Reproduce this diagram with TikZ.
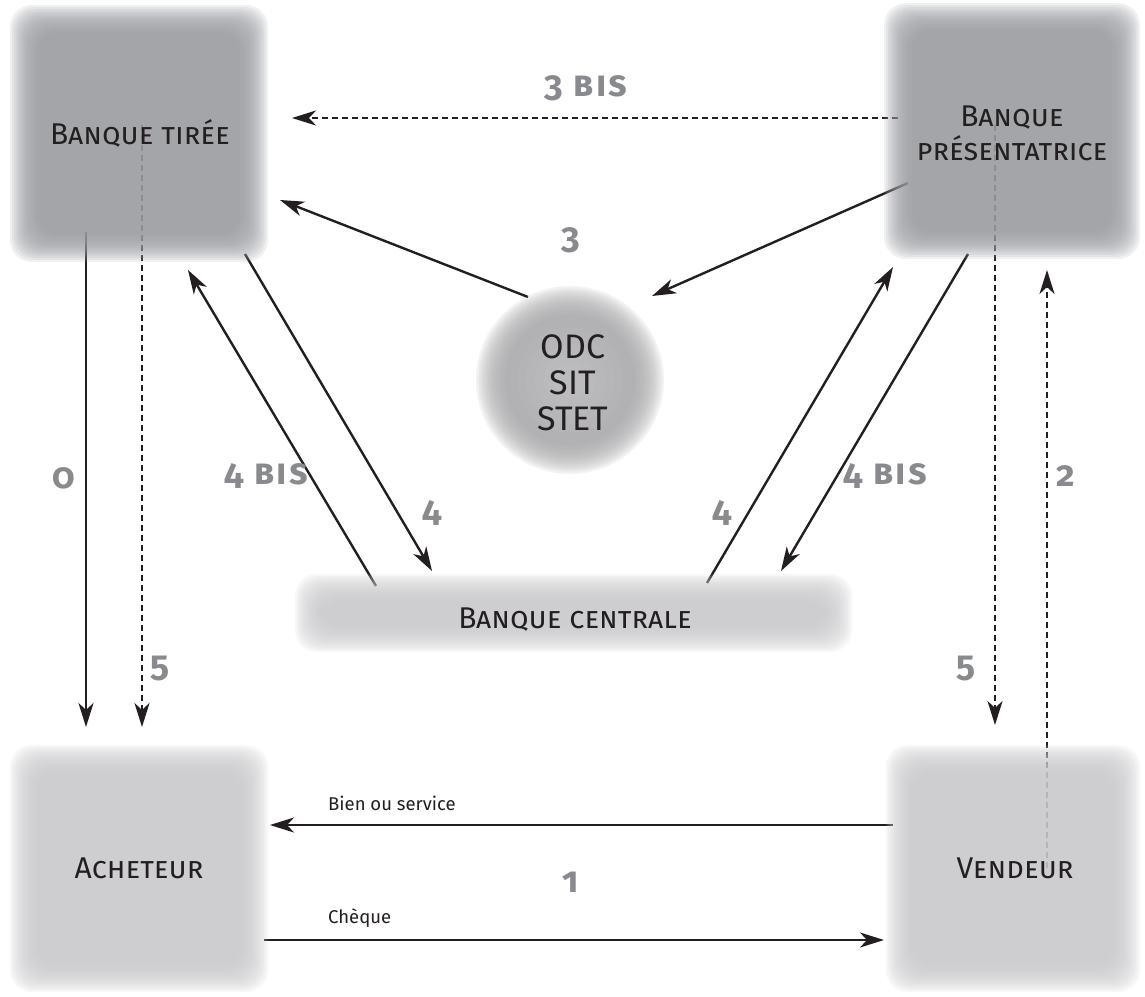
\documentclass[tikz,border=0pt]{standalone}
\usepackage{fontspec}
\setmainfont{Fira Sans}
\newfontfamily\labfont{Fira Sans}[Numbers=OldStyle,LetterSpace=6]
\usetikzlibrary{arrows.meta,calc}
\definecolor{darkbox}{HTML}{9D9EA2}
\definecolor{lightbox}{HTML}{CBCCCE}
\definecolor{circgray}{HTML}{A9AAAD}
\definecolor{labgray}{HTML}{898A8D}
\definecolor{ink}{HTML}{231F20}
\pgfdeclarelayer{bg}
\pgfdeclarelayer{mid}
\pgfsetlayers{bg,mid,main}
\newcommand\fuzzrect[5]{%
  \foreach \i in {0,...,13}{%
    \fill[#5,opacity=0.145,rounded corners=22pt] ({#1+2.1*\i},{#2+2.1*\i}) rectangle ({#3-2.1*\i},{#4-2.1*\i});}}
\newcommand\fuzzdisc[4]{%
  \foreach \i in {0,...,13}{%
    \fill[#4,opacity=0.145] (#1,#2) circle ({#3-2.4*\i});}}
\tikzset{
  boxlabel/.style={font=\fontsize{30}{34}\selectfont\scshape, text=ink, inner sep=0pt},
  circlabel/.style={font=\fontsize{34}{36}\selectfont, text=ink, inner sep=0pt, align=center},
  lab/.style={font=\labfont\bfseries\scshape\fontsize{36}{38}\selectfont, text=labgray, inner sep=0pt},
  small/.style={font=\fontsize{18.5}{20}\selectfont, text=ink, inner sep=0pt},
  conn/.style={draw=ink, line width=2.4pt, -{Stealth[length=24pt,width=15pt,inset=7pt]}},
  dconn/.style={conn, line width=2.6pt, dash pattern=on 6pt off 4pt}
}
\begin{document}
\begin{tikzpicture}[x=1pt,y=-1pt]
\useasboundingbox (0,0) rectangle (1145,996);
\begin{pgfonlayer}{bg}
  \fill[white] (0,0) rectangle (1145,996);
\end{pgfonlayer}

% nodes (text)
\node[boxlabel] (bt) at (140,133) {Banque tirée};
\node[boxlabel, align=center] (bp) at (1012,133) {Banque\\présentatrice};
\node[boxlabel] (ach) at (139,868) {Acheteur};
\node[boxlabel] (ven) at (1015,868) {Vendeur};
\node[boxlabel] (bc) at (575,620) {Banque centrale};
\node[circlabel] (odc) at (573,383) {ODC\\SIT\\STET};

% labels
\node[lab] (l3b) at (586,88) {3 bis};
\node[lab] (l3) at (571,240) {3};
\node[lab] (l0) at (64,478) {0};
\node[lab] (l4bl) at (266,476) {4 bis};
\node[lab] (l4l) at (432,513) {4};
\node[lab] (l4r) at (722,513) {4};
\node[lab] (l4br) at (885,476) {4 bis};
\node[lab] (l2) at (1066,476) {2};
\node[lab] (l5l) at (160,668) {5};
\node[lab] (l5r) at (966,668) {5};
\node[lab] (l1) at (571,882) {1};
\node[small, anchor=west] (lbien) at (328,803) {Bien ou service};
\node[small, anchor=west] (lcheq) at (328,918) {Chèque};

% fuzzy shapes
\begin{pgfonlayer}{mid}
  \fuzzrect{10}{5}{268}{262}{darkbox}
  \fuzzrect{884}{3}{1140}{259}{darkbox}
  \fuzzrect{10}{745}{268}{992}{lightbox}
  \fuzzrect{886}{745}{1140}{992}{lightbox}
  \fuzzrect{295}{574}{852}{652}{lightbox}
  \fuzzdisc{570}{380}{94}{circgray}
  \foreach \i in {0,...,5}{\fill[white,opacity=0.035] (570,380) circle ({62-9*\i});}
\end{pgfonlayer}

% connectors
\begin{pgfonlayer}{bg}
  \draw[dconn] ($(bp)+(-114,-15)$) -- ($(bt)+(152,-15)$);
  \draw[conn] ($(odc)+(-45,-86)$) -- ($(bt)+(140,67)$);
  \draw[conn] ($(bp)+(-104,50)$) -- ($(odc)+(79,-87)$);
  \draw[conn] ($(bt)+(-54,99)$) -- ($(ach)+(-53,-141)$);
  \draw[dconn] ($(bt)+(2,-8)$) -- ($(ach)+(3,-141)$);
  \draw[conn] ($(bc)+(-199,-34)$) -- ($(bt)+(48,137)$);
  \draw[conn] ($(bt)+(105,121)$) -- ($(bc)+(-143,-49)$);
  \draw[conn] ($(bc)+(132,-37)$) -- ($(bp)+(-119,134)$);
  \draw[conn] ($(bp)+(-44,121)$) -- ($(bc)+(206,-49)$);
  \draw[dconn] ($(bp)+(-17,-8)$) -- ($(ven)+(-20,-143)$);
  \draw[dconn] ($(ven)+(32,0)$) -- ($(bp)+(35,137)$);
  \draw[conn] ($(ven)+(-122,-43)$) -- ($(ach)+(131,-43)$);
  \draw[conn] ($(ach)+(125,72)$) -- ($(ven)+(-131,72)$);
\end{pgfonlayer}
\end{tikzpicture}
\end{document}
